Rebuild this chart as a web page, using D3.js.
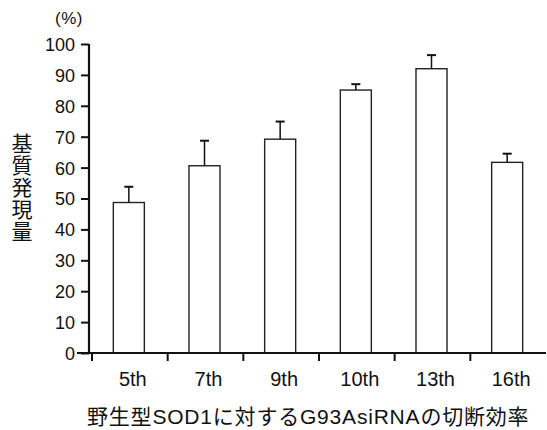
<!DOCTYPE html>
<html>
<head>
<meta charset="utf-8">
<script src="https://cdn.jsdelivr.net/npm/d3@7"></script>
<style>
  body { margin: 0; background: #fff; }
  text { fill: #111; }
</style>
</head>
<body>
<div id="chart"></div>
<script>
// data
const categories = ["5th", "7th", "9th", "10th", "13th", "16th"];
const values = [48.7, 60.6, 69.2, 85.1, 92.0, 61.7];
const errTops = [53.8, 68.7, 74.9, 87.0, 96.4, 64.5];
const yTicks = [0, 10, 20, 30, 40, 50, 60, 70, 80, 90, 100];

const width = 547, height = 430;
const x0 = 89, x1 = 546, yBottom = 353, yTop = 44;
const latin = "'Liberation Sans', Arial, sans-serif";
const cjk = "'Liberation Sans', 'Noto Sans CJK JP', sans-serif";

const svg = d3.select("#chart").append("svg")
  .attr("width", width)
  .attr("height", height)
  .style("font-family", latin);

// scales
const xScale = d3.scaleBand().domain(categories).range([x0 + 3, x1]);
const yScale = d3.scaleLinear().domain([0, 100]).range([yBottom, yTop]);

const barW = xScale.bandwidth() * 0.41;

// bars
svg.append("g").selectAll("rect")
  .data(categories)
  .join("rect")
  .attr("x", (d) => xScale(d) + xScale.bandwidth() / 2 - barW / 2 - 1)
  .attr("y", (d, i) => yScale(values[i]))
  .attr("width", barW)
  .attr("height", (d, i) => yBottom - yScale(values[i]))
  .attr("fill", "#fff")
  .attr("stroke", "#222")
  .attr("stroke-width", 1.4);

// error bars (upper only)
const err = svg.append("g").attr("stroke", "#111").attr("stroke-width", 1.5);
categories.forEach((c, i) => {
  const cx = xScale(c) + xScale.bandwidth() / 2 - 1;
  err.append("line")
    .attr("x1", cx).attr("x2", cx)
    .attr("y1", yScale(values[i])).attr("y2", yScale(errTops[i]));
  err.append("line")
    .attr("x1", cx - 4.5).attr("x2", cx + 4.5)
    .attr("y1", yScale(errTops[i])).attr("y2", yScale(errTops[i]))
    .attr("stroke-width", 2);
});

// y axis
const yAxis = svg.append("g")
  .attr("transform", `translate(${x0},0)`)
  .call(d3.axisLeft(yScale).tickValues(yTicks).tickSize(8).tickPadding(6));
yAxis.attr("font-family", latin);
yAxis.select(".domain").attr("stroke", "#111").attr("stroke-width", 2.2)
  .attr("d", `M0,${yTop}V${yBottom}`);
yAxis.selectAll(".tick line").attr("stroke", "#111").attr("stroke-width", 2);
yAxis.selectAll(".tick text")
  .attr("font-size", 18)
  .attr("fill", "#111")
  .attr("dy", "0.36em");

// x axis
const xAxis = svg.append("g")
  .attr("transform", `translate(0,${yBottom})`);
xAxis.append("line")
  .attr("x1", x0 - 12).attr("x2", x1)
  .attr("stroke", "#111").attr("stroke-width", 2.2);
const bounds = categories.map((c) => xScale(c));
xAxis.selectAll(".xtick")
  .data(bounds)
  .join("line")
  .attr("class", "xtick")
  .attr("x1", (d) => d).attr("x2", (d) => d)
  .attr("y1", 0).attr("y2", 8)
  .attr("stroke", "#111").attr("stroke-width", 2);
xAxis.selectAll(".xlabel")
  .data(categories)
  .join("text")
  .attr("class", "xlabel")
  .attr("x", (d) => xScale(d) + xScale.bandwidth() / 2 + 3)
  .attr("y", 33)
  .attr("text-anchor", "middle")
  .attr("font-size", 20)
  .text((d) => d);

// unit
svg.append("text")
  .attr("x", 69).attr("y", 24)
  .attr("text-anchor", "middle")
  .attr("font-size", 17)
  .attr("letter-spacing", 0.5)
  .text("(%)");

// y label (vertical)
svg.append("text")
  .attr("x", 22).attr("y", 133)
  .attr("font-size", 21)
  .style("font-family", "'Noto Sans CJK JP', sans-serif")
  .style("writing-mode", "vertical-rl")
  .style("text-orientation", "upright")
  .attr("letter-spacing", 1)
  .text("基質発現量");

// x title
svg.append("text")
  .attr("x", 87).attr("y", 424)
  .attr("font-size", 21)
  .attr("letter-spacing", 0.8)
  .style("font-family", cjk)
  .text("野生型SOD1に対するG93AsiRNAの切断効率");
</script>
</body>
</html>
